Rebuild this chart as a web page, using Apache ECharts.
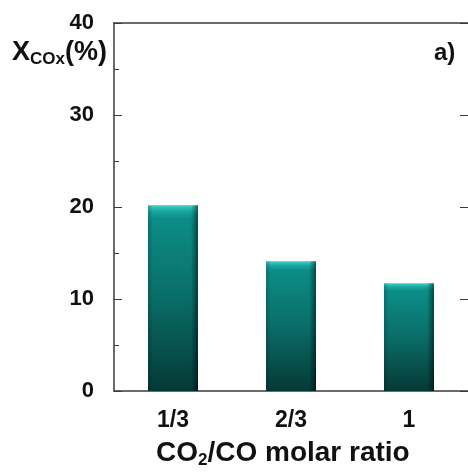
<!DOCTYPE html>
<html>
<head>
<meta charset="utf-8">
<script src="https://cdn.jsdelivr.net/npm/echarts@6/dist/echarts.min.js"></script>
<style>
  html, body { margin: 0; padding: 0; background: #fff; }
  #chart { width: 468px; height: 472px; }
</style>
</head>
<body>
<div id="chart"></div>
<script>
// data
const categories = ['1/3', '2/3', '1'];
const conversion = [20.2, 14.1, 11.7];
const yTicks = { min: 0, max: 40, interval: 10 };

const font = 'Arial, "Liberation Sans", sans-serif';
const axisColor = '#3a3a3a';

const myChart = echarts.init(document.getElementById('chart'));

// bar fill: teal, light bevel on top, darker towards the bottom
const barFill = new echarts.graphic.LinearGradient(0, 0, 0, 1, [
  { offset: 0, color: '#3fd0c7' },
  { offset: 0.035, color: '#16a59e' },
  { offset: 0.07, color: '#0c8d87' },
  { offset: 0.5, color: '#0a6d68' },
  { offset: 1, color: '#053936' }
]);
// side shading drawn over the bars
const edgeShade = new echarts.graphic.LinearGradient(0, 0, 1, 0, [
  { offset: 0, color: 'rgba(0,0,0,0.18)' },
  { offset: 0.1, color: 'rgba(0,0,0,0)' },
  { offset: 0.86, color: 'rgba(0,0,0,0)' },
  { offset: 1, color: 'rgba(0,0,0,0.5)' }
]);

const option = {
  animation: false,
  grid: { left: 114, top: 23, width: 360, height: 368 },
  xAxis: [
    {
      type: 'category',
      data: categories,
      position: 'bottom',
      axisLine: { lineStyle: { color: axisColor, width: 1.5 } },
      axisTick: { alignWithLabel: true, inside: true, length: 6, lineStyle: { color: axisColor } },
      axisLabel: { margin: 18, fontSize: 23, fontWeight: 'bold', color: '#111', fontFamily: font }
    },
    {
      // ticks between categories
      type: 'category',
      data: categories,
      position: 'bottom',
      axisLine: { show: false },
      axisTick: { inside: true, length: 6, lineStyle: { color: axisColor } },
      axisLabel: { show: false }
    },
    {
      // top frame line
      type: 'category',
      data: categories,
      position: 'top',
      axisLine: { lineStyle: { color: axisColor, width: 1.5 } },
      axisTick: { show: false },
      axisLabel: { show: false }
    }
  ],
  yAxis: [
    {
      type: 'value',
      min: yTicks.min,
      max: yTicks.max,
      interval: yTicks.interval,
      position: 'left',
      splitLine: { show: false },
      axisLine: { show: true, lineStyle: { color: axisColor, width: 1.5 } },
      axisTick: { show: true, inside: true, length: 8, lineStyle: { color: axisColor } },
      minorTick: { show: true, splitNumber: 2, length: 5, lineStyle: { color: axisColor } },
      axisLabel: { margin: 20, fontSize: 22, fontWeight: 'bold', color: '#111', fontFamily: font, padding: [4, 0, 0, 0] }
    },
    {
      type: 'value',
      min: yTicks.min,
      max: yTicks.max,
      interval: yTicks.interval,
      position: 'right',
      splitLine: { show: false },
      axisLine: { show: false },
      axisTick: { show: true, inside: true, length: 8, lineStyle: { color: axisColor } },
      axisLabel: { show: false }
    }
  ],
  series: [
    {
      type: 'bar',
      data: conversion,
      barWidth: 50,
      itemStyle: { color: barFill }
    },
    {
      type: 'bar',
      data: conversion,
      barWidth: 50,
      barGap: '-100%',
      silent: true,
      itemStyle: { color: edgeShade }
    }
  ],
  graphic: [
    {
      type: 'text',
      left: 12,
      top: 39,
      style: {
        text: '{b|X}{s|COx}{b|(%)}',
        rich: {
          b: { fontSize: 27, fontWeight: 'bold', fill: '#111', fontFamily: font },
          s: { fontSize: 17, fontWeight: 'bold', fill: '#111', fontFamily: font, padding: [14, 0, 0, 0] }
        }
      }
    },
    {
      type: 'text',
      left: 434,
      top: 41,
      style: { text: 'a)', fontSize: 24, fontWeight: 'bold', fill: '#111', fontFamily: font }
    },
    {
      type: 'text',
      left: 156,
      top: 439,
      style: {
        text: '{b|CO}{s|2}{b|/CO molar ratio}',
        rich: {
          b: { fontSize: 28, fontWeight: 'bold', fill: '#111', fontFamily: font },
          s: { fontSize: 17, fontWeight: 'bold', fill: '#111', fontFamily: font, padding: [14, 0, 0, 0] }
        }
      }
    }
  ]
};

option && myChart.setOption(option);
</script>
</body>
</html>
